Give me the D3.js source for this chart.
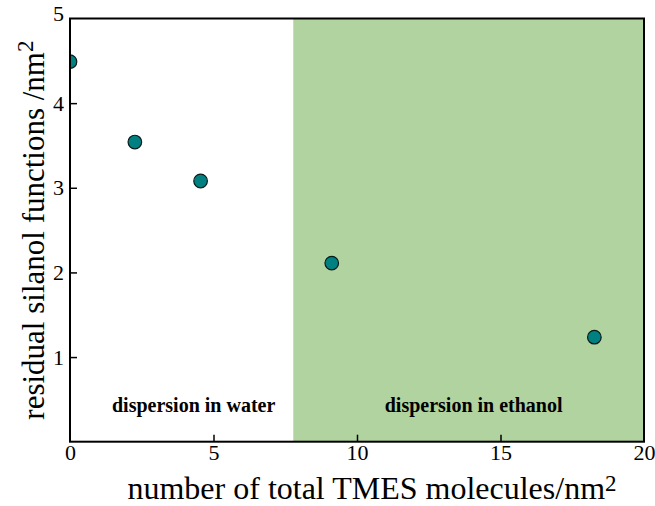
<!DOCTYPE html>
<html><head><meta charset="utf-8">
<script src="https://cdn.jsdelivr.net/npm/d3@7"></script>
<style>body{margin:0;background:#fff}svg{display:block}text{font-family:"Liberation Serif","Times New Roman",serif}</style>
</head><body><svg id="c" width="655" height="506"></svg>
<script>
const xValues = [0, 2.26, 4.55, 9.12, 18.27];
const yValues = [4.49, 3.54, 3.08, 2.11, 1.235];
const xTicks = [0, 5, 10, 15, 20];
const yTicks = [1, 2, 3, 4, 5];
const regionLabels = ["dispersion in water", "dispersion in ethanol"];
const regionBounds = [[0, 7.78], [7.78, 20]];
const regionFills = ["none", "#b0d39f"];
const labelShift = [12, 5]; // px offset of label from region centre

const svg = d3.select("#c");
const m = {l: 70, r: 644, t: 18.5, b: 441.7};
const x = d3.scaleLinear().domain([0, 20]).range([m.l, m.r]);
const y = d3.scaleLinear().domain([0, 5]).range([m.b, m.t]);
const regions = regionLabels.map((l, i) => ({label: l, from: regionBounds[i][0], to: regionBounds[i][1], fill: regionFills[i], shift: labelShift[i]}));

svg.append("defs").append("clipPath").attr("id", "plotclip").append("rect")
  .attr("x", m.l).attr("y", m.t).attr("width", m.r - m.l).attr("height", m.b - m.t);

svg.selectAll("rect.reg").data(regions.filter(d => d.fill !== "none")).enter().append("rect")
  .attr("x", d => x(d.from)).attr("y", m.t).attr("width", d => x(d.to) - x(d.from)).attr("height", m.b - m.t)
  .attr("fill", d => d.fill);

svg.selectAll("text.reg").data(regions).enter().append("text")
  .attr("x", d => (x(d.from) + x(d.to)) / 2 + d.shift).attr("y", 412).attr("text-anchor", "middle")
  .attr("font-weight", "bold").attr("font-size", 20).text(d => d.label);

const xAxis = d3.axisBottom(x).tickValues(xTicks).tickSizeInner(-7).tickSizeOuter(0).tickPadding(3).tickFormat(d3.format("d"));
const yAxis = d3.axisLeft(y).tickValues(yTicks).tickSizeInner(-7).tickSizeOuter(0).tickPadding(6).tickFormat(d3.format("d"));
const gx = svg.append("g").attr("transform", `translate(0,${m.b})`).call(xAxis);
const gy = svg.append("g").attr("transform", `translate(${m.l},0)`).call(yAxis);
[gx, gy].forEach(g => {
  g.select(".domain").remove();
  g.selectAll("line").attr("stroke", "#000").attr("stroke-width", 1.5);
  g.selectAll("text").attr("font-size", 22).attr("fill", "#000").style("font-family", '"Liberation Serif",serif');
});
gx.selectAll(".tick").filter(d => d === 0 || d === 20).select("line").remove();
gy.selectAll(".tick").filter(d => d === 5).select("line").remove();
gy.selectAll(".tick").filter(d => d === 5).select("text").attr("dy", "0.1em");

svg.append("g").attr("clip-path", "url(#plotclip)")
  .selectAll("circle.pt").data(xValues.map((v, i) => [v, yValues[i]])).enter().append("circle")
  .attr("cx", d => x(d[0])).attr("cy", d => y(d[1])).attr("r", 6.8)
  .attr("fill", "#008080").attr("stroke", "#0a1a1a").attr("stroke-width", 1.2);

svg.append("rect").attr("x", m.l).attr("y", m.t).attr("width", m.r - m.l).attr("height", m.b - m.t)
  .attr("fill", "none").attr("stroke", "#000").attr("stroke-width", 2);

const xt = svg.append("text").attr("x", 372).attr("y", 499).attr("text-anchor", "middle").attr("font-size", 32);
xt.append("tspan").text("number of total TMES molecules/nm");
xt.append("tspan").attr("font-size", 23).attr("dy", -8).text("2");
const yt = svg.append("text").attr("transform", `translate(44,${(m.t + m.b) / 2}) rotate(-90)`).attr("text-anchor", "middle").attr("font-size", 31);
yt.append("tspan").text("residual silanol functions /nm");
yt.append("tspan").attr("font-size", 23).attr("dy", -11).text("2");
</script></body></html>
